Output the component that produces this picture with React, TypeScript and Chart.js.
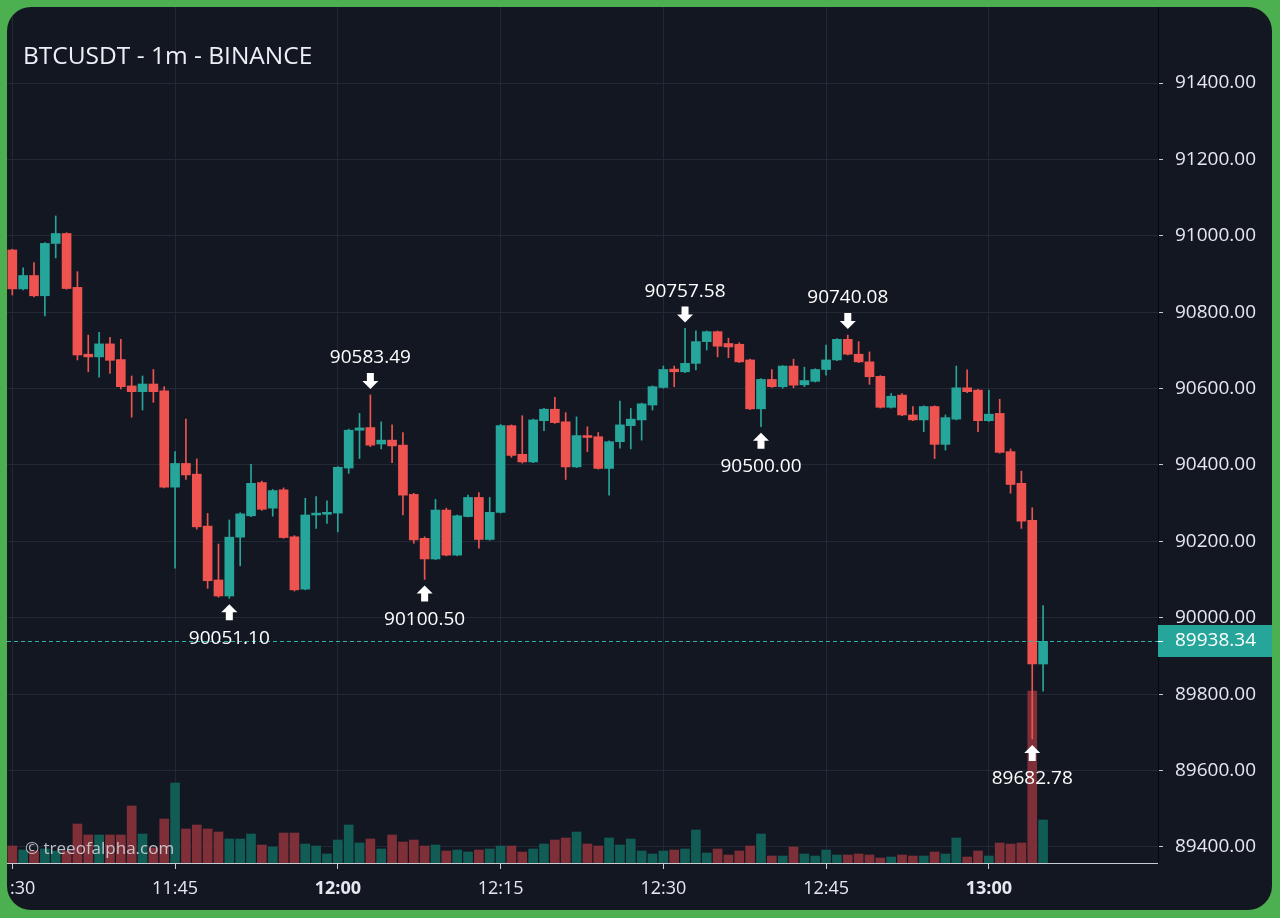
import React, { useEffect, useRef } from "react";
import { Chart, registerables } from "chart.js";

Chart.register(...registerables);

const FONT = '"Open Sans", "Noto Sans", sans-serif';
const UP = "#26a69a";
const DOWN = "#ef5350";
const UP_VOL = "#115c55";
const DOWN_VOL = "#7f2f37";
const GRID = "#242834";
const TEXT = "#e6e8ee";

// minute offsets from 11:30 (one candle per minute)
const candleMinutes = [
  0, 1, 2, 3, 4, 5, 6, 7, 8, 9, 10, 11, 12, 13, 14, 15, 16, 17, 18, 19,
  20, 21, 22, 23, 24, 25, 26, 27, 28, 29, 30, 31, 32, 33, 34, 35, 36, 37, 38, 39,
  40, 41, 42, 43, 44, 45, 46, 47, 48, 49, 50, 51, 52, 53, 54, 55, 56, 57, 58, 59,
  60, 61, 62, 63, 64, 65, 66, 67, 68, 69, 70, 71, 72, 73, 74, 75, 76, 77, 78, 79,
  80, 81, 82, 83, 84, 85, 86, 87, 88, 89, 90, 91, 92, 93, 94, 95,
];

const opens = [
  90963, 90861, 90896, 90843, 90980, 91006, 90865, 90690, 90683, 90717,
  90676, 90607, 90592, 90612, 90594, 90342, 90404, 90376, 90240, 90099,
  90057, 90211, 90267, 90354, 90287, 90335, 90212, 90075, 90269, 90271,
  90274, 90392, 90491, 90498, 90455, 90465, 90452, 90323, 90208, 90154,
  90282, 90164, 90265, 90315, 90205, 90276, 90503, 90428, 90408, 90516,
  90546, 90513, 90395, 90477, 90474, 90391, 90461, 90503, 90518, 90557,
  90603, 90651, 90644, 90666, 90723, 90749, 90718, 90716, 90675, 90547,
  90624, 90605, 90659, 90610, 90619, 90650, 90675, 90729, 90690, 90670,
  90632, 90551, 90583, 90531, 90518, 90553, 90454, 90520, 90602, 90596,
  90516, 90535, 90435, 90352, 90255, 89879,
];

const highs = [
  90965, 90916, 90930, 90982, 91052, 91008, 90906, 90740, 90747, 90734,
  90729, 90633, 90633, 90650, 90605, 90435, 90520, 90416, 90273, 90193,
  90256, 90275, 90402, 90358, 90336, 90340, 90215, 90313, 90317, 90306,
  90396, 90494, 90535, 90583.49, 90513, 90505, 90485, 90326, 90212, 90310,
  90287, 90269, 90321, 90328, 90315, 90506, 90505, 90529, 90520, 90548,
  90577, 90537, 90526, 90500, 90485, 90463, 90567, 90548, 90562, 90607,
  90659, 90659, 90757.58, 90751, 90751, 90751, 90732, 90720, 90677, 90626,
  90650, 90660, 90677, 90656, 90652, 90714, 90731, 90740.08, 90723, 90696,
  90634, 90587, 90587, 90553, 90555, 90555, 90531, 90659, 90649, 90598,
  90596, 90572, 90442, 90384, 90288, 90032,
];

const lows = [
  90845, 90858, 90840, 90790, 90942, 90860, 90675, 90644, 90630, 90640,
  90599, 90525, 90544, 90564, 90340, 90130, 90362, 90232, 90077, 90054,
  90051.1, 90136, 90265, 90281, 90266, 90208, 90070, 90073, 90234, 90247,
  90225, 90378, 90417, 90448, 90442, 90406, 90269, 90195, 90100.5, 90152,
  90162, 90162, 90264, 90182, 90203, 90274, 90420, 90405, 90406, 90490,
  90509, 90362, 90393, 90435, 90389, 90321, 90444, 90442, 90465, 90544,
  90601, 90605, 90642, 90649, 90701, 90683, 90681, 90668, 90545, 90500,
  90603, 90601, 90602, 90605, 90617, 90635, 90673, 90688, 90668, 90611,
  90549, 90549, 90529, 90516, 90487, 90417, 90439, 90518, 90589, 90487,
  90514, 90431, 90326, 90234, 89682.78, 89808,
];

const closes = [
  90861, 90896, 90843, 90980, 91006, 90862, 90688, 90683, 90717, 90674,
  90605, 90592, 90612, 90592, 90342, 90404, 90374, 90238, 90097, 90057,
  90211, 90272, 90352, 90284, 90333, 90210, 90073, 90269, 90274, 90276,
  90394, 90491, 90497, 90452, 90465, 90450, 90321, 90204, 90154, 90282,
  90164, 90267, 90315, 90205, 90276, 90503, 90425, 90408, 90518, 90546,
  90511, 90395, 90477, 90472, 90391, 90461, 90505, 90520, 90560, 90605,
  90650, 90644, 90666, 90723, 90749, 90711, 90709, 90670, 90547, 90624,
  90605, 90659, 90609, 90621, 90650, 90675, 90729, 90690, 90670, 90631,
  90551, 90580, 90531, 90518, 90553, 90454, 90524, 90602, 90592, 90516,
  90533, 90433, 90349, 90253, 89879, 89938.34,
];

const volumes = [
  17, 13, 12, 14, 12, 12, 39, 28, 28, 28,
  28, 57, 29, 15, 44, 80, 34, 38, 34, 31,
  24, 24, 29, 18, 16, 30, 30, 19, 17, 9,
  23, 38, 20, 24, 14, 28, 21, 23, 17, 18,
  12, 13, 11, 13, 14, 17, 17, 11, 14, 19,
  23, 25, 31, 19, 17, 25, 18, 24, 12, 9,
  12, 13, 14, 33, 10, 14, 8, 12, 17, 29,
  7, 7, 16, 9, 7, 13, 8, 8, 9, 8,
  5, 6, 8, 7, 7, 11, 9, 25, 6, 12,
  7, 20, 19, 20, 172, 43,
];

const xTickMinutes = [0, 15, 30, 45, 60, 75, 90];
const xTickLabels = ["11:30", "11:45", "12:00", "12:15", "12:30", "12:45", "13:00"];
const boldTickLabels = ["12:00", "13:00"];
const yTicks = [89400, 89600, 89800, 90000, 90200, 90400, 90600, 90800, 91000, 91200, 91400];

const markerIndex = [20, 33, 38, 62, 69, 77, 94];
const markerKind = ["low", "high", "low", "high", "low", "high", "low"];

const TITLE = "BTCUSDT - 1m - BINANCE";
const WATERMARK = "\u00a9 treeofalpha.com";

const isUp = (i: number) => closes[i] >= opens[i];

const decorPlugin = {
  id: "decor",
  afterDatasetsDraw(chart: any) {
    const { ctx, chartArea, scales } = chart;
    const xs = scales.x;
    const ys = scales.y;
    ctx.save();
    // watermark
    ctx.font = `17px ${FONT}`;
    ctx.fillStyle = "rgba(215,219,226,0.85)";
    ctx.textAlign = "left";
    ctx.textBaseline = "middle";
    ctx.fillText(WATERMARK, chartArea.left + 18, chartArea.bottom - 14);

    // last price dotted line
    const last = closes[closes.length - 1];
    const py = Math.round(ys.getPixelForValue(last)) + 0.5;
    ctx.strokeStyle = "#2ab3a6";
    ctx.lineWidth = 1;
    ctx.setLineDash([4, 3]);
    ctx.beginPath();
    ctx.moveTo(chartArea.left, py);
    ctx.lineTo(chartArea.right, py);
    ctx.stroke();
    ctx.setLineDash([]);

    // high / low markers
    ctx.fillStyle = "#ffffff";
    ctx.font = `19px ${FONT}`;
    ctx.textAlign = "center";
    ctx.textBaseline = "middle";
    markerIndex.forEach((idx, k) => {
      const cx = xs.getPixelForValue(candleMinutes[idx]);
      if (markerKind[k] === "high") {
        const v = highs[idx];
        const yh = ys.getPixelForValue(v);
        const tip = yh - 6;
        ctx.beginPath();
        ctx.moveTo(cx - 3.5, tip - 16);
        ctx.lineTo(cx + 3.5, tip - 16);
        ctx.lineTo(cx + 3.5, tip - 8);
        ctx.lineTo(cx + 8, tip - 8);
        ctx.lineTo(cx, tip);
        ctx.lineTo(cx - 8, tip - 8);
        ctx.lineTo(cx - 3.5, tip - 8);
        ctx.closePath();
        ctx.fill();
        ctx.fillText(v.toFixed(2), cx, yh - 37);
      } else {
        const v = lows[idx];
        const yl = ys.getPixelForValue(v);
        const tip = yl + 6;
        ctx.beginPath();
        ctx.moveTo(cx - 3.5, tip + 16);
        ctx.lineTo(cx + 3.5, tip + 16);
        ctx.lineTo(cx + 3.5, tip + 8);
        ctx.lineTo(cx + 8, tip + 8);
        ctx.lineTo(cx, tip);
        ctx.lineTo(cx - 8, tip + 8);
        ctx.lineTo(cx - 3.5, tip + 8);
        ctx.closePath();
        ctx.fill();
        ctx.fillText(v.toFixed(2), cx, yl + 40);
      }
    });
    ctx.restore();
  },
  afterDraw(chart: any) {
    const { ctx, chartArea, scales } = chart;
    const ys = scales.y;
    ctx.save();
    // title
    ctx.font = `24.5px ${FONT}`;
    ctx.fillStyle = "#eef0f5";
    ctx.textAlign = "left";
    ctx.textBaseline = "middle";
    ctx.fillText(TITLE, chartArea.left + 16, chartArea.top + 50);

    // last price label on axis
    const last = closes[closes.length - 1];
    const py = Math.round(ys.getPixelForValue(last));
    ctx.fillStyle = UP;
    ctx.fillRect(chartArea.right, py - 16, chart.width - chartArea.right, 32);
    ctx.strokeStyle = "#ffffff";
    ctx.lineWidth = 1;
    ctx.beginPath();
    ctx.moveTo(chartArea.right, py + 0.5);
    ctx.lineTo(chartArea.right + 5, py + 0.5);
    ctx.stroke();
    ctx.fillStyle = "#ffffff";
    ctx.font = `19px ${FONT}`;
    ctx.fillText(last.toFixed(2), chartArea.right + 17, py);
    ctx.restore();
  },
};

export default function App() {
  const ref = useRef<HTMLCanvasElement>(null);

  useEffect(() => {
    document.body.style.margin = "0";
    const candleColors = candleMinutes.map((_, i) => (isUp(i) ? UP : DOWN));
    const volColors = candleMinutes.map((_, i) => (isUp(i) ? UP_VOL : DOWN_VOL));

    const chart = new Chart(ref.current as HTMLCanvasElement, {
      type: "bar",
      data: {
        datasets: [
          {
            label: "body",
            data: candleMinutes.map((m, i) => ({ x: m, y: [opens[i], closes[i]] })) as any,
            backgroundColor: candleColors,
            barThickness: 9,
            minBarLength: 1.5,
            grouped: false,
            order: 1,
            yAxisID: "y",
            borderWidth: 0,
          },
          {
            label: "wick",
            data: candleMinutes.map((m, i) => ({ x: m, y: [lows[i], highs[i]] })) as any,
            backgroundColor: candleColors,
            barThickness: 1,
            grouped: false,
            order: 2,
            yAxisID: "y",
            borderWidth: 0,
          },
          {
            label: "volume",
            data: candleMinutes.map((m, i) => ({ x: m, y: volumes[i] })) as any,
            backgroundColor: volColors,
            barThickness: 9,
            grouped: false,
            order: 3,
            yAxisID: "v",
            borderWidth: 0,
          },
        ],
      },
      options: {
        animation: false,
        responsive: false,
        devicePixelRatio: 1,
        layout: { padding: 0 },
        plugins: {
          legend: { display: false },
          tooltip: { enabled: false },
          title: { display: false },
        },
        scales: {
          x: {
            type: "linear",
            min: -0.49,
            max: 105.59,
            offset: false,
            position: "bottom",
            afterBuildTicks: (s: any) => {
              s.ticks = xTickMinutes.map((v) => ({ value: v }));
            },
            afterFit: (s: any) => {
              s.height = 47;
              s.paddingLeft = 0;
              s.paddingRight = 0;
            },
            grid: {
              offset: false,
              color: GRID,
              tickColor: "#c8cbd2",
              tickLength: 6,
              drawTicks: true,
            },
            border: { color: "#c8cbd2", width: 1 },
            ticks: {
              autoSkip: false,
              maxRotation: 0,
              padding: 9,
              color: TEXT,
              font: (ctx: any) => ({
                family: FONT,
                size: 18,
                weight: ctx.tick && boldTickLabels.includes(xTickLabels[xTickMinutes.indexOf(ctx.tick.value)]) ? "bold" : "normal",
              }),
              callback: (_v: any, index: number) => xTickLabels[index],
            },
          },
          y: {
            type: "linear",
            position: "right",
            min: 89358,
            max: 91599,
            afterBuildTicks: (s: any) => {
              s.ticks = yTicks.map((v) => ({ value: v }));
            },
            afterFit: (s: any) => {
              s.width = 114;
              s.paddingTop = 0;
              s.paddingBottom = 0;
            },
            grid: {
              color: GRID,
              tickColor: "#c8cbd2",
              tickLength: 5,
              drawTicks: true,
            },
            border: { color: "#05070b", width: 1 },
            ticks: {
              padding: 12,
              color: TEXT,
              font: { family: FONT, size: 19 },
              callback: (v: any) => Number(v).toFixed(2),
            },
          },
          v: {
            type: "linear",
            display: false,
            min: 0,
            max: 856,
          },
        },
      },
      plugins: [decorPlugin],
    } as any);

    return () => chart.destroy();
  }, []);

  return (
    <div
      style={{
        position: "fixed",
        left: 0,
        top: 0,
        width: 1280,
        height: 918,
        background: "#4caf50",
        overflow: "hidden",
      }}
    >
      <div
        style={{
          position: "absolute",
          left: 7,
          top: 7,
          width: 1265,
          height: 903,
          borderRadius: 24,
          overflow: "hidden",
          background: "#131722",
        }}
      >
        <canvas ref={ref} width={1265} height={903} style={{ display: "block", width: 1265, height: 903 }} />
      </div>
    </div>
  );
}
